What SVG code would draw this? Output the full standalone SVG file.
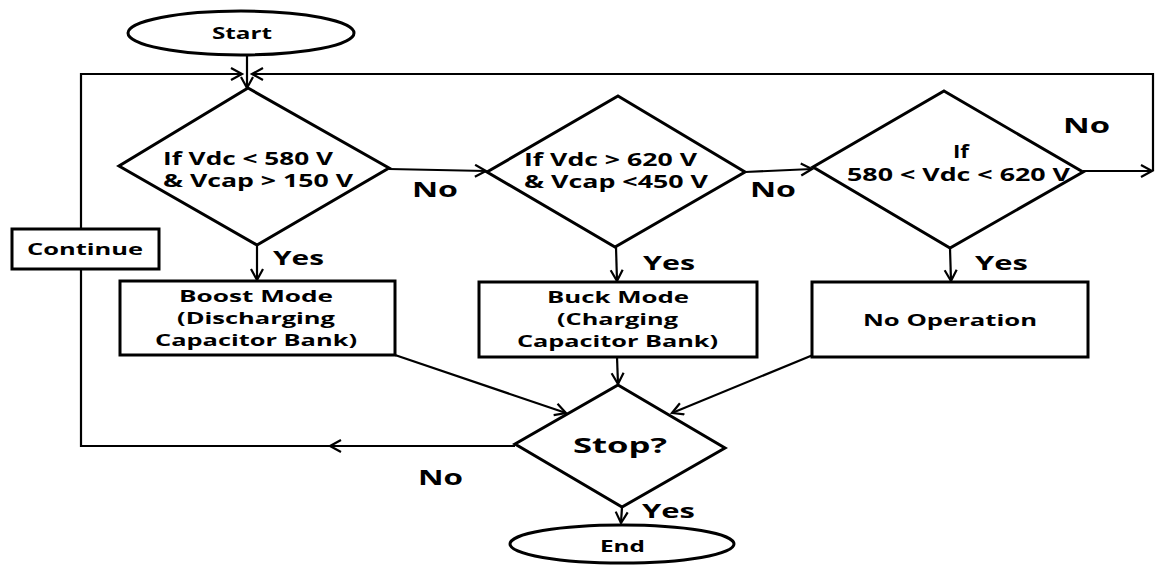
<svg xmlns="http://www.w3.org/2000/svg" width="1155" height="565" viewBox="0 0 1155 565">
  <style>
    .shape { fill: #fff; stroke: #000; stroke-width: 3; stroke-linejoin: miter; }
    .wire { fill: none; stroke: #000; stroke-width: 2.2; }
    .t { font-family: "Open Sans", "Liberation Sans", sans-serif; font-weight: bold; fill: #000; }
    .s16 { font-size: 16px; }
    .s17 { font-size: 17px; }
    .s19 { font-size: 19px; }
    .s21 { font-size: 21px; }
    .s22 { font-size: 22px; }
  </style>
  <defs>
    <marker id="arrow" markerUnits="userSpaceOnUse" markerWidth="16" markerHeight="16" refX="12" refY="7" orient="auto">
      <path d="M1,1 L12,7 L1,13" fill="none" stroke="#000" stroke-width="2.2"/>
    </marker>
  </defs>

  <!-- connectors -->
  <g id="connectors">
    <path class="wire" d="M247,56 L247,88" marker-end="url(#arrow)"/>
    <!-- loop back from Stop? via Continue -->
    <path class="wire" d="M515,446 L330,446" marker-end="url(#arrow)"/>
    <path class="wire" d="M330,446 L81,446 L81,74 L242,74" marker-end="url(#arrow)"/>
    <!-- loop back from third decision -->
    <path class="wire" d="M1083,171 L1152,171" marker-end="url(#arrow)"/>
    <path class="wire" d="M1153,171 L1153,74 L252,74" marker-end="url(#arrow)"/>
    <!-- decision chain -->
    <path class="wire" d="M389,169 L486,171" marker-end="url(#arrow)"/>
    <path class="wire" d="M745,172 L812,169" marker-end="url(#arrow)"/>
    <!-- yes branches -->
    <path class="wire" d="M257,245 L257,280" marker-end="url(#arrow)"/>
    <path class="wire" d="M616,247 L617,281" marker-end="url(#arrow)"/>
    <path class="wire" d="M950,248 L951,281" marker-end="url(#arrow)"/>
    <!-- modes into Stop? -->
    <path class="wire" d="M395,355 L566,413" marker-end="url(#arrow)"/>
    <path class="wire" d="M617,357 L618,384" marker-end="url(#arrow)"/>
    <path class="wire" d="M813,355 L672,413" marker-end="url(#arrow)"/>
    <path class="wire" d="M622,507 L621,523" marker-end="url(#arrow)"/>
  </g>

  <!-- connector labels -->
  <g id="labels">
    <text class="t s21" x="412" y="197" textLength="46" lengthAdjust="spacingAndGlyphs">No</text>
    <text class="t s21" x="750" y="197" textLength="46" lengthAdjust="spacingAndGlyphs">No</text>
    <text class="t s21" x="1063" y="133" textLength="47" lengthAdjust="spacingAndGlyphs">No</text>
    <text class="t s21" x="418" y="485" textLength="45" lengthAdjust="spacingAndGlyphs">No</text>
    <text class="t s19" x="273" y="265" textLength="51" lengthAdjust="spacingAndGlyphs">Yes</text>
    <text class="t s19" x="643" y="270" textLength="52" lengthAdjust="spacingAndGlyphs">Yes</text>
    <text class="t s19" x="975" y="270" textLength="53" lengthAdjust="spacingAndGlyphs">Yes</text>
    <text class="t s19" x="642" y="518" textLength="53" lengthAdjust="spacingAndGlyphs">Yes</text>
  </g>

  <g id="start">
    <ellipse class="shape" cx="241" cy="33" rx="113" ry="22"/>
    <text class="t s16" x="212" y="39" textLength="60" lengthAdjust="spacingAndGlyphs">Start</text>
  </g>

  <g id="continue">
    <rect class="shape" x="12" y="229" width="147" height="40"/>
    <text class="t s16" x="27" y="255" textLength="116" lengthAdjust="spacingAndGlyphs">Continue</text>
  </g>

  <g id="check-boost">
    <polygon class="shape" points="248,88 389,168 257,245 119,166"/>
    <text class="t s17" x="163" y="165" textLength="170" lengthAdjust="spacingAndGlyphs">If Vdc &lt; 580 V</text>
    <text class="t s17" x="163" y="187" textLength="190" lengthAdjust="spacingAndGlyphs">&amp; Vcap &gt; 150 V</text>
  </g>

  <g id="check-buck">
    <polygon class="shape" points="618,96 745,172 615,247 487,172"/>
    <text class="t s17" x="524" y="166" textLength="173" lengthAdjust="spacingAndGlyphs">If Vdc &gt; 620 V</text>
    <text class="t s17" x="524" y="188" textLength="184" lengthAdjust="spacingAndGlyphs">&amp; Vcap &lt;450 V</text>
  </g>

  <g id="check-idle">
    <polygon class="shape" points="944,91 1083,172 950,248 813,167"/>
    <text class="t s17" x="953" y="158" textLength="16" lengthAdjust="spacingAndGlyphs">If</text>
    <text class="t s17" x="847" y="181" textLength="223" lengthAdjust="spacingAndGlyphs">580 &lt; Vdc &lt; 620 V</text>
  </g>

  <g id="boost-mode">
    <rect class="shape" x="120" y="281" width="275" height="74"/>
    <text class="t s16" x="179" y="302" textLength="154" lengthAdjust="spacingAndGlyphs">Boost Mode</text>
    <text class="t s16" x="177" y="324" textLength="158" lengthAdjust="spacingAndGlyphs">(Discharging</text>
    <text class="t s16" x="155" y="346" textLength="202" lengthAdjust="spacingAndGlyphs">Capacitor Bank)</text>
  </g>

  <g id="buck-mode">
    <rect class="shape" x="479" y="282" width="278" height="75"/>
    <text class="t s16" x="547" y="303" textLength="142" lengthAdjust="spacingAndGlyphs">Buck Mode</text>
    <text class="t s16" x="557" y="325" textLength="121" lengthAdjust="spacingAndGlyphs">(Charging</text>
    <text class="t s16" x="517" y="347" textLength="201" lengthAdjust="spacingAndGlyphs">Capacitor Bank)</text>
  </g>

  <g id="no-operation">
    <rect class="shape" x="812" y="282" width="276" height="75"/>
    <text class="t s16" x="863" y="326" textLength="174" lengthAdjust="spacingAndGlyphs">No Operation</text>
  </g>

  <g id="stop">
    <polygon class="shape" points="618,385 725,448 622,507 515,444"/>
    <text class="t s22" x="573" y="453" textLength="94" lengthAdjust="spacingAndGlyphs">Stop?</text>
  </g>

  <g id="end">
    <ellipse class="shape" cx="622" cy="544" rx="112" ry="19"/>
    <text class="t s16" x="600" y="552" textLength="45" lengthAdjust="spacingAndGlyphs">End</text>
  </g>
</svg>
